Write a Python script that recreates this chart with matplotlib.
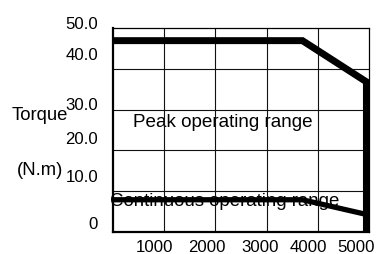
import matplotlib
matplotlib.use("Agg")
import matplotlib.pyplot as plt

plt.rcParams['font.family'] = ['Liberation Sans', 'DejaVu Sans']

# torque-speed curves (speed rpm, torque N.m)
peak_speed = [0, 3700, 4950, 4950]
peak_torque = [46.9, 46.9, 36.8, 0]
cont_speed = [0, 3700, 4950]
cont_torque = [7.9, 7.9, 4.3]

# grid values
x_grid = [1000, 2000, 3000, 4000]
y_grid = [10, 20, 30, 40]

# tick labels and where they sit in the original
x_labels = ["1000", "2000", "3000", "4000", "5000"]
x_label_pos = [820, 1826, 2871, 3809, 4746]
y_labels = ["0", "10.0", "20.0", "30.0", "40.0", "50.0"]
y_label_pos = [2.0, 13.5, 22.8, 31.2, 43.4, 51.2]

fig = plt.figure(figsize=(3.81, 2.55), dpi=100)
ax = fig.add_axes([0.2966, 0.0863, 0.6719, 0.80])
ax.set_xlim(0, 5000)
ax.set_ylim(0, 50)

# grid via minor ticks
ax.set_xticks(x_grid, minor=True)
ax.set_yticks(y_grid, minor=True)
ax.grid(which='minor', color='#111111', linewidth=0.8)
ax.tick_params(which='both', length=0)

ax.set_xticks(x_label_pos, x_labels)
ax.tick_params(axis='x', labelsize=12.1, pad=5.2)
ax.set_yticks([])
for lab, pos in zip(y_labels, y_label_pos):
    ax.text(-0.058, pos, lab, transform=ax.get_yaxis_transform(),
            ha='right', va='center', fontsize=12.1, clip_on=False)

for side in ['left', 'bottom']:
    ax.spines[side].set_linewidth(1.6)
for side in ['top', 'right']:
    ax.spines[side].set_linewidth(0.9)

ax.text(390, 26.0, "Peak operating range", fontsize=13.6, va='baseline', zorder=1)
ax.text(-60, 6.6, "Continuous operating range", fontsize=13.4, va='baseline',
        zorder=1, clip_on=False)

ax.plot(peak_speed, peak_torque, color='black', linewidth=5.0,
        solid_joinstyle='miter', solid_capstyle='butt', zorder=3)
ax.plot(cont_speed, cont_torque, color='black', linewidth=3.8,
        solid_joinstyle='miter', solid_capstyle='butt', zorder=3)

fig.text(12 / 381, 1 - 116 / 255, "Torque", fontsize=13.3, ha='left', va='center')
fig.text(17 / 381, 1 - 171 / 255, "(N.m)", fontsize=13.3, ha='left', va='center')

fig.savefig("out.png", dpi=100)
